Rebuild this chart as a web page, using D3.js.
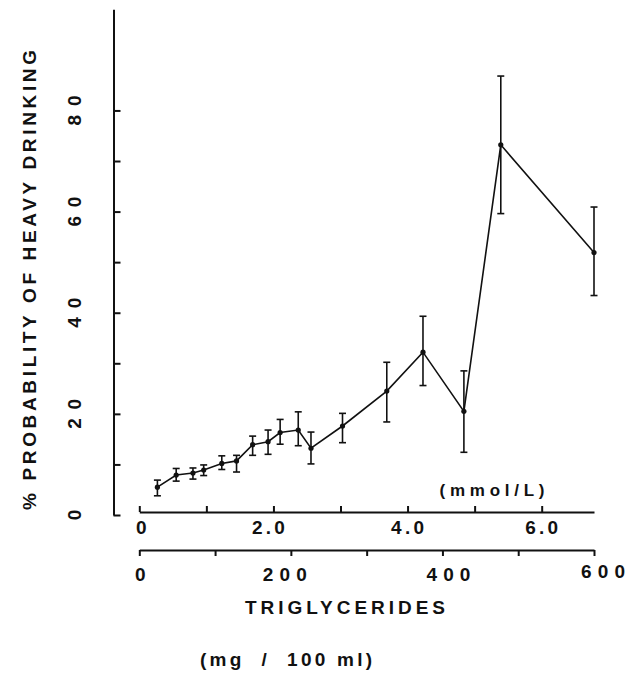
<!DOCTYPE html>
<html><head><meta charset="utf-8">
<script src="https://cdn.jsdelivr.net/npm/d3@7"></script>
<style>
html,body{margin:0;padding:0;background:#fff;}
svg{display:block;}
text{font-family:"Liberation Sans",Arial,sans-serif;font-weight:bold;fill:#111;}
</style>
</head><body>
<svg id="chart" width="626" height="675"></svg>
<script>
// Triglycerides (mmol/L) for each group
const mmol  = [0.27, 0.55, 0.80, 0.96, 1.23, 1.45, 1.69, 1.92, 2.10, 2.37, 2.56, 3.03, 3.69, 4.23, 4.84, 5.39, 6.78];
// % probability of heavy drinking
const prob  = [5.5, 7.9, 8.3, 8.9, 10.2, 10.7, 13.9, 14.5, 16.3, 16.8, 13.2, 17.6, 24.5, 32.2, 20.5, 73.2, 51.9];
const upper = [6.9, 9.2, 9.3, 9.9, 11.7, 11.8, 15.6, 16.8, 18.9, 20.4, 16.4, 20.1, 30.2, 39.3, 28.5, 86.8, 60.9];
const lower = [3.8, 6.7, 7.1, 7.8, 9.0, 8.5, 11.8, 12.0, 14.0, 13.7, 10.1, 14.3, 18.4, 25.6, 12.4, 59.6, 43.4];

const yTicks = [0, 10, 20, 30, 40, 50, 60, 70, 80];
const yLabelValues = [0, 20, 40, 60, 80];
const yLabelText = ["0", "20", "40", "60", "80"];
const mmolTicks = [0, 1, 2, 3, 4, 5, 6];
const mmolLabelValues = [0, 2, 4, 6];
const mmolLabelText = ["0", "2.0", "4.0", "6.0"];
const mgTicks = [0, 100, 200, 300, 400, 500, 600];
const mgLabelValues = [0, 200, 400, 600];
const mgLabelText = ["0", "200", "400", "600"];

const svg = d3.select("#chart");
const x = d3.scaleLinear().domain([0, 6.78]).range([139.3, 594]);
const xMg = d3.scaleLinear().domain([0, 600]).range([139.3, 594]);
const y = d3.scaleLinear().domain([0, 100]).range([515, 9.3]);

function styleAxis(g){
  g.selectAll("path.domain").attr("stroke","#111").attr("stroke-width",2);
  g.selectAll(".tick line").attr("stroke","#111").attr("stroke-width",2);
}

// y axis
svg.append("g").attr("transform","translate(113.5,0)")
  .call(d3.axisLeft(y).tickValues(yTicks).tickSize(-7).tickSizeOuter(0).tickFormat(""))
  .call(styleAxis);
svg.append("g").selectAll("text").data(yLabelValues).join("text")
  .attr("transform", d => `translate(74,${y(d)}) rotate(-90)`)
  .attr("text-anchor","middle").attr("dy","0.36em")
  .attr("font-size",19)
  .attr("textLength", (d,i) => yLabelText[i].length > 1 ? 30 : null)
  .text((d,i) => yLabelText[i]);

// mmol axis
const mmolShift = {0: 2, 2: -5, 4: 0, 6: 0};
svg.append("g").attr("transform","translate(0,512)")
  .call(d3.axisBottom(x).tickValues(mmolTicks).tickSize(-6).tickSizeOuter(0).tickFormat(""))
  .call(styleAxis);
svg.append("g").selectAll("text").data(mmolLabelValues).join("text")
  .attr("x", d => x(d) + mmolShift[d]).attr("y", 534)
  .attr("text-anchor","middle").attr("font-size",19)
  .attr("textLength", (d,i) => mmolLabelText[i].length > 1 ? 33 : null)
  .text((d,i) => mmolLabelText[i]);
svg.append("text").attr("x",492).attr("y",496).attr("text-anchor","middle")
  .attr("font-size",17).attr("textLength",105).attr("lengthAdjust","spacing")
  .text("(mmol/L)");

// mg axis
const mgShift = {0: 1, 200: -6, 400: 6, 600: 9};
svg.append("g").attr("transform","translate(0,550)")
  .call(d3.axisBottom(xMg).tickValues(mgTicks).tickSize(6).tickSizeOuter(0).tickFormat(""))
  .call(styleAxis);
svg.append("g").selectAll("text").data(mgLabelValues).join("text")
  .attr("x", d => xMg(d) + mgShift[d]).attr("y", d => d === 600 ? 578 : 581)
  .attr("text-anchor","middle").attr("font-size",19)
  .attr("textLength", (d,i) => mgLabelText[i].length > 1 ? 44 : null)
  .text((d,i) => mgLabelText[i]);

svg.append("text").attr("x",345).attr("y",614).attr("text-anchor","middle")
  .attr("font-size",19).attr("textLength",200).attr("lengthAdjust","spacing")
  .text("TRIGLYCERIDES");
svg.append("text").attr("x",286).attr("y",666).attr("text-anchor","middle")
  .attr("font-size",19).attr("textLength",172).attr("lengthAdjust","spacing")
  .style("white-space","pre")
  .text("(mg  /  100 ml)");

svg.append("text").attr("transform","translate(29,280) rotate(-90)")
  .attr("text-anchor","middle").attr("dy","0.36em")
  .attr("font-size",19).attr("textLength",460).attr("lengthAdjust","spacing")
  .text("% PROBABILITY OF HEAVY DRINKING");

// data
const idx = d3.range(mmol.length);
const line = d3.line().x(i => x(mmol[i])).y(i => y(prob[i]));
svg.append("path").datum(idx).attr("d", line)
  .attr("fill","none").attr("stroke","#111").attr("stroke-width",1.6);

const eb = svg.append("g").attr("stroke","#111").attr("stroke-width",1.6);
eb.selectAll("line.v").data(idx).join("line").attr("class","v")
  .attr("x1", i => x(mmol[i])).attr("x2", i => x(mmol[i]))
  .attr("y1", i => y(upper[i])).attr("y2", i => y(lower[i]));
eb.selectAll("line.u").data(idx).join("line").attr("class","u")
  .attr("x1", i => x(mmol[i]) - 3.5).attr("x2", i => x(mmol[i]) + 3.5)
  .attr("y1", i => y(upper[i])).attr("y2", i => y(upper[i]));
eb.selectAll("line.l").data(idx).join("line").attr("class","l")
  .attr("x1", i => x(mmol[i]) - 3.5).attr("x2", i => x(mmol[i]) + 3.5)
  .attr("y1", i => y(lower[i])).attr("y2", i => y(lower[i]));

svg.append("g").selectAll("circle").data(idx).join("circle")
  .attr("cx", i => x(mmol[i])).attr("cy", i => y(prob[i])).attr("r", 2.6)
  .attr("fill","#111");
</script>
</body></html>
